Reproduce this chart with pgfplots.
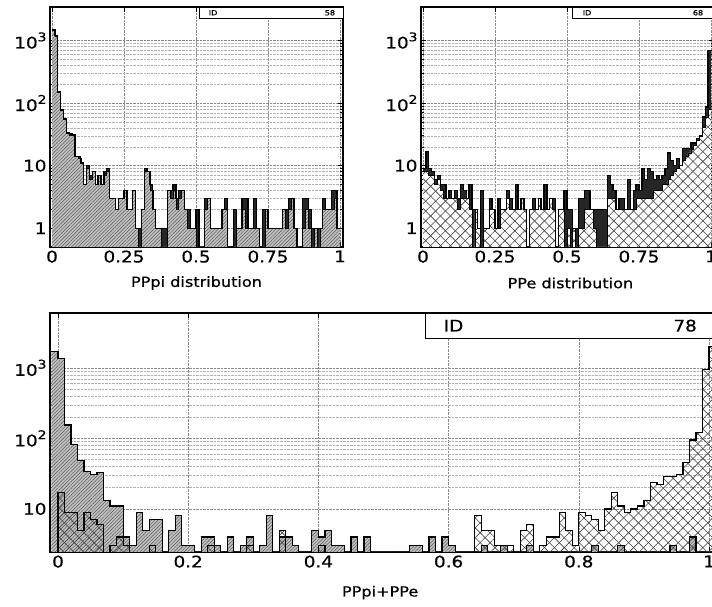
\documentclass[border=0pt]{standalone}
\usepackage{pgfplots}
\pgfplotsset{compat=1.18}
\usepackage{pgfplotstable}
\usetikzlibrary{patterns.meta}
\usepackage{fontspec}
\setmainfont{DejaVu Sans}[FakeStretch=1.15, FakeBold=0.7]
\newcommand{\tenp}[1]{10\raisebox{0.45em}{\fontsize{12}{12}\selectfont #1}}

% top-left: PPpi distribution (x = bin left edge, tot = all, pi = hatched part)
\pgfplotstableread{
x tot pi
0.00 1500 1450
0.01 1200 1150
0.02 155 150
0.03 80 78
0.04 56 55
0.05 34 33
0.06 32 31
0.07 31 30
0.08 14 14
0.09 14 13
0.10 11 11
0.11 5 5
0.12 10 9
0.13 7 6
0.14 8 8
0.15 5 5
0.16 7 7
0.17 5 5
0.18 8 7
0.19 9 8
0.20 3 3
0.21 3 3
0.22 2 2
0.23 3 3
0.24 3 3
0.25 4 4
0.26 2 2
0.27 2 2
0.28 4 4
0.29 1 1
0.30 1 0.01
0.31 2 2
0.32 9 8
0.33 8 8
0.34 5 4
0.35 2 2
0.36 1 1
0.37 1 1
0.38 1 0.01
0.39 1 0.01
0.40 4 4
0.41 4 3
0.42 5 4
0.43 3 2
0.44 4 3
0.45 4 4
0.46 2 2
0.47 2 1
0.48 1 1
0.49 1 1
0.50 2 0.01
0.51 0.01 0.01
0.52 0.01 0.01
0.53 3 2
0.54 3 3
0.55 1 1
0.56 1 1
0.57 1 1
0.58 1 1
0.59 2 2
0.60 3 2
0.61 0.01 0.01
0.62 0.01 0.01
0.63 2 0.01
0.64 1 1
0.65 1 1
0.66 3 2
0.67 3 1
0.68 1 1
0.69 1 1
0.70 3 1
0.71 1 1
0.72 0.01 0.01
0.73 2 0.01
0.74 2 2
0.75 1 1
0.76 1 1
0.77 1 1
0.78 1 1
0.79 1 1
0.80 2 2
0.81 2 1
0.82 3 2
0.83 3 3
0.84 1 1
0.85 0.01 0.01
0.86 0.01 0.01
0.87 3 1
0.88 3 2
0.89 2 1
0.90 1 0.01
0.91 1 1
0.92 1 0.01
0.93 1 1
0.94 3 2
0.95 2 2
0.96 2 2
0.97 4 2
0.98 4 3
0.99 1 1
1.00 1 1
}\tl

% top-right: PPe distribution
\pgfplotstableread{
x tot e
0.00 9 8
0.01 17 8
0.02 9 7
0.03 8 7
0.04 6 5
0.05 7 6
0.06 5 4
0.07 5 3
0.08 3 3
0.09 4 3
0.10 3 3
0.11 4 3
0.12 3 2
0.13 5 3
0.14 4 3
0.15 3 3
0.16 5 2
0.17 2 0.01
0.18 2 2
0.19 1 1
0.20 4 0.01
0.21 1 1
0.22 1 1
0.23 3 2
0.24 2 2
0.25 1 1
0.26 3 1
0.27 2 2
0.28 2 2
0.29 4 3
0.30 3 2
0.31 2 2
0.32 5 2
0.33 2 2
0.34 3 3
0.35 2 2
0.36 0.01 0.01
0.37 2 2
0.38 3 2
0.39 2 2
0.40 3 3
0.41 2 2
0.42 5 2
0.43 2 2
0.44 3 3
0.45 3 2
0.46 0.01 0.01
0.47 2 2
0.48 2 2
0.49 4 0.01
0.50 2 1
0.51 2 0.01
0.52 1 1
0.53 1 0.01
0.54 3 1
0.55 3 1
0.56 4 2
0.57 4 2
0.58 2 2
0.59 2 1
0.60 2 0.01
0.61 2 0.01
0.62 2 0.01
0.63 2 0.01
0.64 7 3
0.65 5 3
0.66 4 3
0.67 2 2
0.68 3 2
0.69 3 2
0.70 2 2
0.71 6 2
0.72 2 2
0.73 4 2
0.74 5 3
0.75 4 3
0.76 9 3
0.77 6 3
0.78 9 3
0.79 8 3
0.80 6 4
0.81 7 4
0.82 6 4
0.83 7 5
0.84 9 5
0.85 16 6
0.86 12 7
0.87 10 8
0.88 13 9
0.89 10 10
0.90 19 12
0.91 19 14
0.92 19 16
0.93 23 18
0.94 23 21
0.95 27 25
0.96 30 29
0.97 60 41
0.98 87 60
0.99 700 80
1.00 700 80
}\tr

% bottom: PPpi+PPe (a = diagonal hatch, b = cross hatch)
\pgfplotstableread{
x a b
-0.01 1700 0.01
0.00 1370 17
0.01 155 9
0.02 81 9
0.03 49 5
0.04 34 9
0.05 31 7
0.06 33 6
0.07 13 0.01
0.08 11 3
0.09 11 4
0.10 4 3
0.11 3 0.01
0.12 9 0.01
0.13 5 0.01
0.14 7 3
0.15 7 0.01
0.16 0.01 0.01
0.17 5 0.01
0.18 8 0.01
0.19 3 0.01
0.20 3 0.01
0.21 0.01 0.01
0.22 4 0.01
0.23 4 3
0.24 3 0.01
0.25 0.01 0.01
0.26 4 0.01
0.27 0.01 0.01
0.28 3 0.01
0.29 4 3
0.30 0.01 0.01
0.31 3 0.01
0.32 8 0.01
0.33 0.01 0.01
0.34 4 5
0.35 4 0.01
0.36 3 0.01
0.37 0.01 0.01
0.38 0.01 0.01
0.39 5 0.01
0.40 4 3
0.41 5 0.01
0.42 3 0.01
0.43 3 0.01
0.44 0.01 0.01
0.45 4 0.01
0.46 0.01 0.01
0.47 4 0.01
0.48 0.01 0.01
0.49 0.01 0.01
0.50 0.01 0.01
0.51 0.01 0.01
0.52 0.01 0.01
0.53 0.01 0.01
0.54 3 0.01
0.55 3 0.01
0.56 0.01 0.01
0.57 4 0.01
0.58 0.01 0.01
0.59 4 0.01
0.60 3 0.01
0.61 0.01 0.01
0.62 0.01 0.01
0.63 0.01 0.01
0.64 0.01 8
0.65 3 5
0.66 0.01 5
0.67 0.01 3
0.68 3 3
0.69 0.01 3
0.70 0.01 0.01
0.71 0.01 5
0.72 3 6
0.73 0.01 0.01
0.74 0.01 3
0.75 0.01 4
0.76 0.01 4
0.77 0.01 9
0.78 0.01 5
0.79 0.01 3
0.80 0.01 9
0.81 0.01 8
0.82 3 7
0.83 0.01 5
0.84 0.01 10
0.85 0.01 17
0.86 3 11
0.87 0.01 9
0.88 0.01 10
0.89 0.01 11
0.90 0.01 13
0.91 0.01 24
0.92 0.01 22
0.93 0.01 29
0.94 3 29
0.95 0.01 31
0.96 0.01 45
0.97 4 95
0.98 0.01 120
0.99 0.01 940
1.00 0.01 2000
1.01 0.01 2000
}\bt

\tikzset{
  dense hatch/.style={fill=gray!50, draw=none,
    postaction={pattern={Lines[angle=45,distance=2.4pt,line width=0.45pt]}, pattern color=black!65}},
  cross hatch/.style={draw=none,
    postaction={pattern={Lines[angle=45,distance=7pt,line width=0.6pt]}, pattern color=black!75},
    postaction={pattern={Lines[angle=-45,distance=7pt,line width=0.6pt]}, pattern color=black!75}},
}

\begin{document}
\begin{tikzpicture}
% ---------------- top left ----------------
\begin{axis}[scale only axis, ymode=log, log origin=infty, no markers,
  axis line style={line width=1.5pt},
  grid=both,
  major grid style={densely dotted, black!45, line width=0.5pt},
  minor grid style={densely dotted, black!30, line width=0.4pt},
  tick align=inside, major tick length=5pt, minor tick length=3pt,
  tick style={black, line width=0.6pt},
  ticklabel style={font=\fontsize{16}{16}\selectfont},
  at={(50pt,360pt)}, anchor=south west,
  width=293pt, height=240pt,
  xmin=-0.007, xmax=1.0104, ymin=0.5, ymax=3440,
  xtick={0,0.25,0.5,0.75,1}, xticklabels={0,0.25,0.5,0.75,1},
  ytick={1,10,100,1000}, yticklabels={1,10,\tenp{2},\tenp{3}},
  xlabel={PPpi distribution},
  xlabel style={font=\fontsize{14}{14}\selectfont, anchor=center, at={(axis description cs:0.5,-0.15)}}]
\addplot[const plot mark left, fill=black!85, draw=none] table[x=x,y=tot]{\tl} \closedcycle;
\addplot[const plot mark left, dense hatch] table[x=x,y=pi]{\tl} \closedcycle;
\addplot[const plot mark left, black, line width=0.6pt] table[x=x,y=pi]{\tl};
\addplot[const plot mark left, black, line width=1.3pt] table[x=x,y=tot]{\tl};
\draw[line width=0.6pt, fill=white] (rel axis cs:0.508,0.952) rectangle (rel axis cs:1,1);
\node[font=\fontsize{7}{7}\selectfont, anchor=west] at (rel axis cs:0.53,0.976) {ID};
\node[font=\fontsize{7}{7}\selectfont, anchor=east] at (rel axis cs:0.985,0.976) {58};
\end{axis}
% ---------------- top right ----------------
\begin{axis}[scale only axis, ymode=log, log origin=infty, no markers,
  axis line style={line width=1.5pt},
  grid=both,
  major grid style={densely dotted, black!45, line width=0.5pt},
  minor grid style={densely dotted, black!30, line width=0.4pt},
  tick align=inside, major tick length=5pt, minor tick length=3pt,
  tick style={black, line width=0.6pt},
  ticklabel style={font=\fontsize{16}{16}\selectfont},
  at={(421pt,360pt)}, anchor=south west,
  width=293pt, height=240pt,
  xmin=-0.007, xmax=1.0104, ymin=0.5, ymax=3440,
  xtick={0,0.25,0.5,0.75,1}, xticklabels={0,0.25,0.5,0.75,1},
  ytick={1,10,100,1000}, yticklabels={1,10,\tenp{2},\tenp{3}},
  xlabel={PPe distribution},
  xlabel style={font=\fontsize{14}{14}\selectfont, anchor=center, at={(axis description cs:0.51,-0.15)}}]
\addplot[const plot mark left, fill=black!85, draw=none] table[x=x,y=tot]{\tr} \closedcycle;
\addplot[const plot mark left, fill=white, cross hatch] table[x=x,y=e]{\tr} \closedcycle;
\addplot[const plot mark left, black, line width=0.6pt] table[x=x,y=e]{\tr};
\addplot[const plot mark left, black, line width=1.3pt] table[x=x,y=tot]{\tr};
\draw[line width=0.6pt, fill=white] (rel axis cs:0.515,0.952) rectangle (rel axis cs:1,1);
\node[font=\fontsize{7}{7}\selectfont, anchor=west] at (rel axis cs:0.54,0.976) {ID};
\node[font=\fontsize{7}{7}\selectfont, anchor=east] at (rel axis cs:0.975,0.976) {68};
\end{axis}
% ---------------- bottom ----------------
\begin{axis}[scale only axis, ymode=log, log origin=infty, no markers,
  axis line style={line width=1.5pt},
  grid=both,
  major grid style={densely dotted, black!45, line width=0.5pt},
  minor grid style={densely dotted, black!30, line width=0.4pt},
  tick align=inside, major tick length=5pt, minor tick length=3pt,
  tick style={black, line width=0.6pt},
  ticklabel style={font=\fontsize{16}{16}\selectfont},
  at={(50pt,55pt)}, anchor=south west,
  width=667pt, height=239pt,
  xmin=-0.0123, xmax=1.0123, ymin=2.45, ymax=6000,
  xtick={0,0.2,0.4,0.6,0.8,1}, xticklabels={0,0.2,0.4,0.6,0.8,1},
  ytick={10,100,1000}, yticklabels={10,\tenp{2},\tenp{3}},
  xlabel={PPpi+PPe},
  xlabel style={font=\fontsize{14}{14}\selectfont, anchor=center, at={(axis description cs:0.495,-0.17)}}]
\addplot[const plot mark left, dense hatch] table[x=x,y=a]{\bt} \closedcycle;
\addplot[const plot mark left, cross hatch] table[x=x,y=b]{\bt} \closedcycle;
\addplot[const plot mark left, black, line width=1.2pt] table[x=x,y=a]{\bt};
\addplot[const plot mark left, black, line width=1.2pt] table[x=x,y=b]{\bt};
\draw[line width=0.7pt, fill=white] (rel axis cs:0.562,0.895) rectangle (rel axis cs:1,1);
\node[font=\fontsize{16}{16}\selectfont, anchor=west] at (rel axis cs:0.585,0.947) {ID};
\node[font=\fontsize{16}{16}\selectfont, anchor=east] at (rel axis cs:0.975,0.947) {78};
\end{axis}
\pgfresetboundingbox
\path[use as bounding box] (0pt,0pt) rectangle (712pt,607pt);
\end{tikzpicture}
\end{document}
